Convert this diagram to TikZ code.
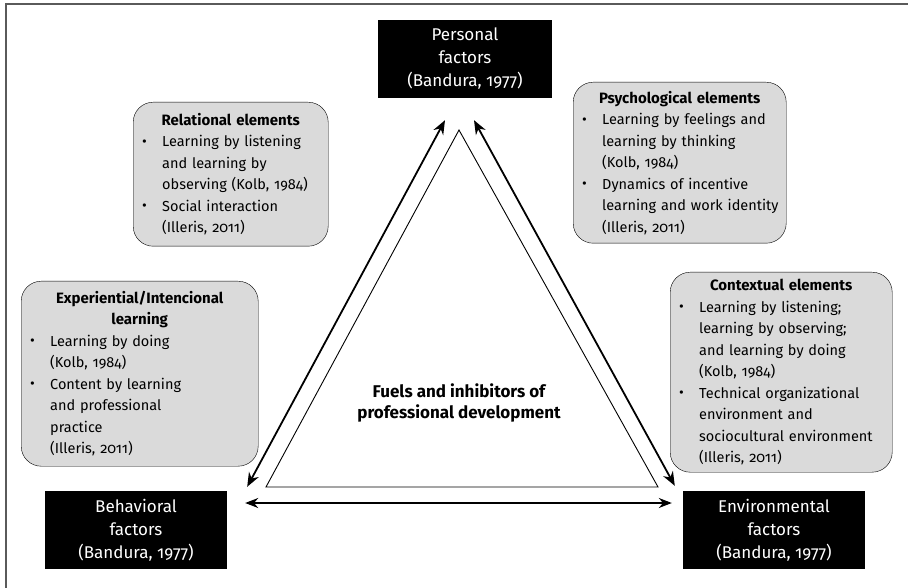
\documentclass[tikz,border=0pt]{standalone}
\usepackage{fontspec}
\setmainfont{Fira Sans}[Numbers=OldStyle]
\usetikzlibrary{arrows.meta,positioning}
\definecolor{elemgray}{RGB}{218,218,218}
\definecolor{framegray}{RGB}{90,90,90}
\hyphenpenalty=10000
\newcommand{\elitem}[1]{\par\leftskip=13pt\hangindent=20pt\noindent\hbox to 20pt{\raisebox{0.5pt}{\textbullet}\hfil}#1\par}
\newcommand{\eltitle}[1]{{\centering\fontsize{15}{21.5}\selectfont\textbf{#1}\par}}

\begin{document}
\begin{tikzpicture}[x=1pt,y=-1pt,
      factor_box/.style={
         rectangle,
         fill=black,
         text=white,
         align=center,
         inner sep=0pt,
         minimum width=180pt,
         minimum height=78pt,
         font=\fontsize{17}{23}\selectfont},
      elem_box/.style={
         rectangle,
         rounded corners=20pt,
         draw=black,
         fill=elemgray,
         align=left,
         inner xsep=-4pt,
         inner ysep=0pt,
         anchor=north west,
         font=\fontsize{14.5}{21.5}\selectfont},
      tri_line/.style={
         draw=black,
         fill=white,
         line width=0.9pt},
      arrow_double/.style={
         {Stealth[length=14pt,width=11pt]}-{Stealth[length=14pt,width=11pt]},
         line width=1.8pt},
      arrow_flat/.style={
         {Stealth[length=13pt,width=10pt]}-{Stealth[length=13pt,width=10pt]},
         line width=1.4pt}
]
   \useasboundingbox (0,0) rectangle (908,588);
   \draw[framegray,line width=2pt] (6,592) -- (6,4) -- (912,4);

   %factors
   \node[factor_box,minimum width=174pt] (personal) at (465,59) {Personal\\factors\\(Bandura, 1977)};
   \node[factor_box,minimum width=182pt] (behavioral) at (136,530) {Behavioral\\factors\\(Bandura, 1977)};
   \node[factor_box,minimum width=182pt] (environmental) at (774,530) {Environmental\\factors\\(Bandura, 1977)};

   %elements
   \node[elem_box,minimum width=195pt,minimum height=144pt,text width=203pt] (relational) at (133,102) {%
      \eltitle{Relational elements}
      \elitem{Learning by listening\newline and learning by\newline observing (Kolb, 1984)}
      \elitem{Social interaction\newline (Illeris, 2011)}};
   \node[elem_box,minimum width=213pt,minimum height=161pt,text width=221pt] (psychological) at (573,82) {%
      \eltitle{Psychological elements}
      \elitem{Learning by feelings and\newline learning by thinking\newline (Kolb, 1984)}
      \elitem{Dynamics of incentive\newline learning and work identity\newline (Illeris, 2011)}};
   \node[elem_box,minimum width=237pt,minimum height=185pt,text width=245pt] (experiential) at (21,281) {%
      \eltitle{Experiential/Intencional\\learning}
      \elitem{Learning by doing\newline (Kolb, 1984)}
      \elitem{Content by learning\newline and professional\newline practice\newline (Illeris, 2011)}};
   \node[elem_box,minimum width=222pt,minimum height=200pt,text width=230pt] (contextual) at (670,272) {%
      \eltitle{Contextual elements}
      \elitem{Learning by listening;\newline learning by observing;\newline and learning by doing\newline (Kolb, 1984)}
      \elitem{Technical organizational\newline environment and\newline sociocultural environment\newline (Illeris, 2011)}};

   %triangle
   \draw[tri_line] (459,130) -- (658,487) -- (266,487) -- cycle;
   \node[font=\fontsize{17}{21}\selectfont\bfseries,align=center] (fuels) at (459,403) {Fuels and inhibitors of\\professional development};

   %arrow ends
   \coordinate (pl) at ([shift={(-20,22)}]personal.south);
   \coordinate (pr) at ([shift={(9,22)}]personal.south);
   \coordinate (bt) at ([shift={(20,-4)}]behavioral.north east);
   \coordinate (bh) at ([shift={(18,-27)}]behavioral.east);
   \coordinate (et) at ([shift={(-8,-5)}]environmental.north west);
   \coordinate (eh) at ([shift={(-11,-27)}]environmental.west);

   \foreach \i/\j in {pl/bt, pr/et}
      \draw[arrow_double] (\i) -- (\j);
   \draw[arrow_flat] (bh) -- (eh);
\end{tikzpicture}
\end{document}
